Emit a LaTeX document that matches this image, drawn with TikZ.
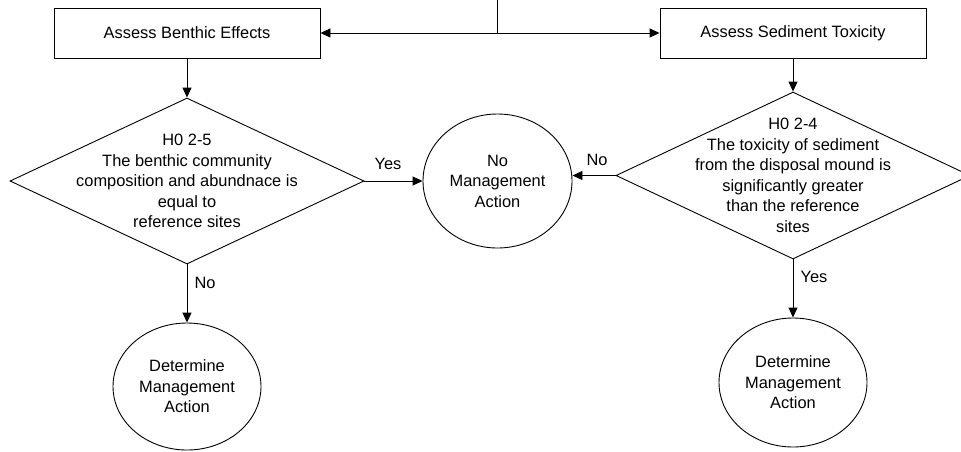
\documentclass[tikz,border=0pt]{standalone}
\usepackage{fontspec}
\setmainfont{Liberation Sans}
\usetikzlibrary{shapes.geometric,arrows.meta}
\begin{document}
\begin{tikzpicture}[x=1pt,y=-1pt,
  every node/.style={font=\fontsize{16.4}{20.5}\selectfont, text=black},
  line/.style={line width=0.9pt, draw=black},
  arr/.style={line, -{Triangle[length=10pt,width=9pt]}},
  dblarr/.style={line, {Triangle[length=10pt,width=9pt]}-{Triangle[length=10pt,width=9pt]}},
  boxnode/.style={line, rectangle, minimum width=266pt, minimum height=50pt, inner sep=0pt},
  dia/.style={line, diamond, minimum width=354pt, minimum height=166pt, inner sep=0pt},
  ell/.style={line, ellipse, inner sep=0pt},
  txt/.style={align=center, inner sep=0pt},
  lbl/.style={inner sep=0pt}
]
\useasboundingbox (0,0) rectangle (961,451);

\coordinate (top) at (497,0);
\coordinate (junc) at (497,33);

\node[boxnode] (b1) at (187,33) {Assess Benthic Effects};
\node[boxnode] (b2) at (793,33) {Assess Sediment Toxicity};

\node[dia] (d1) at (187,181) {};
\node[txt] (t1) at (d1.center) {H0 2-5\\The benthic community\\composition and abundnace is\\equal to\\reference sites};

\node[dia, minimum width=354pt, minimum height=167pt] (d2) at (793,175.5) {};
\node[txt] (t2) at (d2.center) {H0 2-4\\The toxicity of sediment\\from the disposal mound is\\significantly greater\\than the reference\\sites};

\node[ell, minimum width=149pt, minimum height=134pt] (nm) at (497.5,181) {};
\node[txt] (nmt) at (nm.center) {No\\Management\\Action};

\node[ell, minimum width=148pt, minimum height=127pt] (dm1) at (187,386.5) {};
\node[txt] (dm1t) at (dm1.center) {Determine\\Management\\Action};

\node[ell, minimum width=148pt, minimum height=129pt] (dm2) at (793,382.5) {};
\node[txt] (dm2t) at (dm2.center) {Determine\\Management\\Action};

\draw[line] (top) -- (junc);
\draw[dblarr] (b1.east) -- (b2.west);

\draw[arr] (b1.south) -- (d1.north);
\draw[arr] (b2.south) -- (d2.north);

\draw[arr] (d1.east) -- (d1.east -| nm.west);
\draw[arr] (d2.west) -- (d2.west -| nm.east);

\draw[arr] (d1.south) -- (dm1.north);
\draw[arr] (d2.south) -- (dm2.north);

\node[lbl] (yes1) at (388,164) {Yes};
\node[lbl] (no1) at (597,160) {No};
\node[lbl] (no2) at (205,283) {No};
\node[lbl] (yes2) at (814,277) {Yes};
\end{tikzpicture}
\end{document}
